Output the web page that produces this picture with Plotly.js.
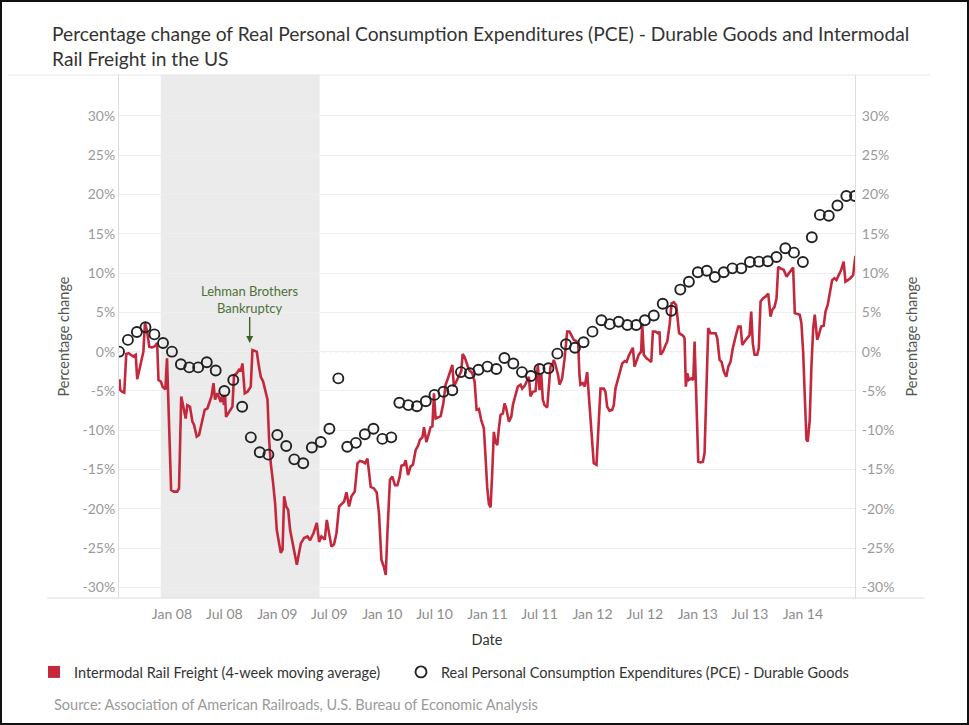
<!DOCTYPE html>
<html><head><meta charset="utf-8">
<script src="https://cdn.plot.ly/plotly-3.0.1.min.js"></script>
<style>
html,body{margin:0;padding:0;background:#fff;}
#chart{width:969px;height:725px;}
#frame{position:absolute;left:0;top:0;width:969px;height:725px;box-sizing:border-box;border:2px solid #111;pointer-events:none;}
</style>
</head><body>
<div id="chart"></div><div id="frame"></div>
<script>
const pceMonths = ['2007-07-01','2007-08-01','2007-09-01','2007-10-01','2007-11-01','2007-12-01',
'2008-01-01','2008-02-01','2008-03-01','2008-04-01','2008-05-01','2008-06-01','2008-07-01','2008-08-01','2008-09-01','2008-10-01','2008-11-01','2008-12-01',
'2009-01-01','2009-02-01','2009-03-01','2009-04-01','2009-05-01','2009-06-01','2009-07-01','2009-08-01','2009-09-01','2009-10-01','2009-11-01','2009-12-01',
'2010-01-01','2010-02-01','2010-03-01','2010-04-01','2010-05-01','2010-06-01','2010-07-01','2010-08-01','2010-09-01','2010-10-01','2010-11-01','2010-12-01',
'2011-01-01','2011-02-01','2011-03-01','2011-04-01','2011-05-01','2011-06-01','2011-07-01','2011-08-01','2011-09-01','2011-10-01','2011-11-01','2011-12-01',
'2012-01-01','2012-02-01','2012-03-01','2012-04-01','2012-05-01','2012-06-01','2012-07-01','2012-08-01','2012-09-01','2012-10-01','2012-11-01','2012-12-01',
'2013-01-01','2013-02-01','2013-03-01','2013-04-01','2013-05-01','2013-06-01','2013-07-01','2013-08-01','2013-09-01','2013-10-01','2013-11-01','2013-12-01',
'2014-01-01','2014-02-01','2014-03-01','2014-04-01','2014-05-01','2014-06-01','2014-07-01'];
const pceValues = [0,1.5,2.5,3.1,2.2,1.1,
0,-1.6,-2.0,-2.0,-1.35,-2.4,-5.0,-3.6,-7.0,-10.9,-12.8,-13.1,
-10.6,-12.0,-13.7,-14.2,-12.2,-11.5,-9.8,-3.4,-12.1,-11.6,-10.5,-9.8,
-11.1,-10.9,-6.5,-6.8,-6.95,-6.3,-5.5,-5.1,-4.9,-2.6,-2.75,-2.3,
-1.9,-2.2,-0.8,-1.5,-2.6,-3.1,-2.2,-2.1,-0.25,0.95,0.5,1.2,
2.55,4.0,3.5,3.8,3.4,3.4,4.0,4.6,6.1,5.2,7.9,8.9,
10.1,10.3,9.5,10.1,10.6,10.6,11.4,11.45,11.5,12.05,13.15,12.6,
11.4,14.55,17.4,17.3,18.6,19.8,19.8];

// Intermodal rail freight, 4-week moving average (dates as fractional years)
const railYears = [
2007.500,2007.508,2007.527,2007.546,2007.565,2007.588,2007.607,2007.631,2007.655,2007.669,
2007.690,2007.712,2007.728,2007.743,2007.762,2007.785,2007.810,2007.838,2007.859,2007.872,
2007.895,2007.912,2007.937,2007.953,2007.992,2008.019,2008.049,2008.067,2008.088,2008.108,
2008.130,2008.146,2008.171,2008.194,2008.209,2008.235,2008.257,2008.282,2008.311,2008.337,
2008.361,2008.375,2008.394,2008.409,2008.432,2008.447,2008.463,2008.479,2008.494,2008.504,
2008.513,2008.536,2008.558,2008.574,2008.589,2008.615,2008.637,2008.653,2008.669,2008.691,
2008.717,2008.748,2008.764,2008.805,2008.821,2008.843,2008.865,2008.881,2008.907,2008.922,
2008.938,2008.960,2008.979,2008.995,2009.012,2009.033,2009.050,2009.065,2009.084,2009.103,
2009.122,2009.145,2009.167,2009.186,2009.207,2009.224,2009.255,2009.287,2009.312,2009.344,
2009.376,2009.398,2009.420,2009.452,2009.471,2009.493,2009.515,2009.540,2009.563,2009.588,
2009.611,2009.635,2009.658,2009.683,2009.706,2009.737,2009.763,2009.787,2009.813,2009.835,
2009.858,2009.889,2009.920,2009.946,2009.968,2009.991,2010.015,2010.032,2010.048,2010.072,
2010.095,2010.120,2010.143,2010.165,2010.181,2010.206,2010.222,2010.244,2010.269,2010.291,
2010.317,2010.339,2010.358,2010.381,2010.396,2010.419,2010.443,2010.459,2010.476,2010.491,
2010.507,2010.533,2010.555,2010.580,2010.602,2010.624,2010.650,2010.666,2010.681,2010.707,
2010.728,2010.751,2010.764,2010.783,2010.808,2010.824,2010.856,2010.878,2010.897,2010.919,
2010.941,2010.966,2010.982,2010.998,2011.014,2011.030,2011.046,2011.061,2011.077,2011.094,
2011.109,2011.125,2011.147,2011.163,2011.179,2011.204,2011.227,2011.242,2011.268,2011.289,
2011.315,2011.331,2011.356,2011.372,2011.394,2011.410,2011.432,2011.458,2011.480,2011.496,
2011.512,2011.527,2011.543,2011.569,2011.584,2011.600,2011.616,2011.632,2011.648,2011.673,
2011.686,2011.711,2011.733,2011.759,2011.781,2011.800,2011.822,2011.845,2011.864,2011.876,
2011.885,2011.907,2011.926,2011.949,2011.964,2011.990,2012.012,2012.038,2012.054,2012.076,
2012.107,2012.123,2012.139,2012.161,2012.187,2012.202,2012.218,2012.244,2012.266,2012.282,
2012.307,2012.323,2012.345,2012.367,2012.383,2012.399,2012.418,2012.440,2012.462,2012.472,
2012.487,2012.513,2012.535,2012.558,2012.573,2012.598,2012.620,2012.636,2012.646,2012.668,
2012.694,2012.710,2012.732,2012.751,2012.772,2012.795,2012.822,2012.836,2012.862,2012.874,
2012.886,2012.900,2012.915,2012.938,2012.957,2012.969,2012.995,2013.004,2013.026,2013.048,
2013.064,2013.083,2013.099,2013.121,2013.147,2013.169,2013.185,2013.207,2013.226,2013.248,
2013.271,2013.290,2013.311,2013.333,2013.359,2013.385,2013.407,2013.423,2013.445,2013.470,
2013.492,2013.508,2013.523,2013.540,2013.565,2013.580,2013.597,2013.622,2013.644,2013.670,
2013.692,2013.708,2013.730,2013.749,2013.765,2013.787,2013.818,2013.844,2013.866,2013.888,
2013.907,2013.923,2013.945,2013.970,2013.986,2014.003,2014.018,2014.034,2014.046,2014.065,
2014.081,2014.098,2014.113,2014.136,2014.151,2014.174,2014.198,2014.215,2014.236,2014.255,
2014.278,2014.300,2014.319,2014.341,2014.364,2014.388,2014.405,2014.427,2014.452,2014.478,
2014.500];
const railValues = [
-3.5,-4.9,-5.1,-5.2,-0.3,-0.2,-0.4,-0.6,-0.4,-3.5,
-2.3,-1.1,0.0,3.7,2.7,0.6,0.55,0.7,1.1,-3.6,
-3.8,-4.5,-4.8,-0.85,-17.6,-17.8,-17.8,-17.4,-5.7,-7.0,
-8.5,-6.8,-7.0,-8.9,-9.3,-10.8,-10.6,-9.1,-7.4,-7.2,
-6.1,-5.7,-4.0,-6.1,-5.3,-5.9,-6.4,-5.5,-6.8,-5.5,
-8.3,-7.8,-7.4,-7.0,-3.0,-2.75,-2.3,-2.5,-1.5,-5.3,
-5.1,-4.45,0.2,0.0,-1.5,-3.2,-3.8,-4.7,-6.1,-11.2,
-14.2,-16.7,-19.3,-22.7,-24.0,-25.6,-25.2,-18.4,-19.7,-20.1,
-22.7,-24.4,-25.6,-27.1,-25.6,-24.4,-23.7,-23.5,-24.0,-23.1,
-21.8,-24.2,-23.5,-23.9,-21.4,-23.3,-24.8,-24.5,-23.1,-19.7,
-19.4,-19.1,-17.9,-19.7,-18.4,-17.8,-14.2,-13.9,-14.0,-14.2,
-13.6,-17.2,-17.4,-17.9,-20.6,-26.5,-27.4,-28.4,-23.1,-16.3,
-15.9,-17.0,-17.0,-15.9,-14.5,-14.4,-13.8,-15.7,-14.6,-14.4,
-12.5,-12.0,-11.2,-10.9,-9.6,-11.5,-10.4,-9.6,-9.5,-5.3,
-8.5,-8.3,-8.2,-6.6,-4.2,-3.4,-2.5,-1.7,-4.45,-3.6,
-3.1,-2.5,-0.3,-0.7,-1.7,-2.3,-2.75,-3.8,-7.4,-7.3,
-8.7,-9.75,-13.4,-17.3,-19.4,-19.8,-15.3,-10.2,-11.5,-11.9,
-9.75,-8.05,-7.85,-6.6,-7.2,-8.9,-8.3,-6.8,-5.5,-4.45,
-4.2,-4.7,-4.3,-3.8,-3.2,-5.7,-5.1,-5.0,-1.7,-4.9,
-2.75,-6.1,-6.8,-7.1,-4.45,-1.9,-1.7,-1.05,-1.7,-3.0,
-4.2,-3.4,-1.05,2.55,2.55,2.1,1.5,1.35,1.05,-3.0,
-4.2,-4.0,-4.45,-2.6,-5.5,-11.0,-14.2,-14.4,-9.75,-4.7,
-4.7,-5.1,-7.0,-7.5,-7.4,-6.8,-4.7,-3.4,-2.45,-1.5,
-1.2,-1.3,-0.5,0.0,0.5,-1.9,-1.05,-0.35,0.0,3.6,
-0.4,-0.85,-1.05,-1.3,2.55,2.55,2.35,2.55,-0.4,0.0,
0.85,1.3,3.4,6.15,6.3,5.9,2.35,2.25,2.0,1.7,
-4.45,-2.75,-3.6,-3.4,-3.6,1.3,-10.4,-14.0,-14.1,-14.0,
-12.9,-3.6,3.0,2.35,2.4,2.35,1.7,-1.05,-1.3,-2.55,
-3.2,-1.9,-1.3,0.45,1.9,3.2,3.2,0.85,1.3,1.7,
2.1,5.1,1.05,-0.4,-0.4,0.45,6.4,6.8,7.0,7.4,
4.45,5.3,5.7,6.8,10.8,10.6,10.4,9.55,9.95,10.4,
10.7,4.9,4.8,4.7,3.6,-0.2,-5.7,-11.2,-11.45,-8.7,
-1.9,3.0,4.7,1.5,2.1,3.2,3.3,5.1,5.95,7.4,
9.1,9.35,9.1,9.75,10.4,11.45,8.9,9.1,9.35,9.75,
12.2];

const xTickDates = ['2008-01-01','2008-07-01','2009-01-01','2009-07-01','2010-01-01','2010-07-01','2011-01-01','2011-07-01','2012-01-01','2012-07-01','2013-01-01','2013-07-01','2014-01-01'];
const xTickLabels = ['Jan 08','Jul 08','Jan 09','Jul 09','Jan 10','Jul 10','Jan 11','Jul 11','Jan 12','Jul 12','Jan 13','Jul 13','Jan 14'];
const yTickValues = [-30,-25,-20,-15,-10,-5,0,5,10,15,20,25,30];
const yTickLabels = yTickValues.map(v => v + '%');
const recession = ['2007-11-23','2009-05-28'];
const lehman = {date:'2008-09-27', value:1.1, text:'Lehman Brothers<br>Bankruptcy'};
const railName = 'Intermodal Rail Freight (4-week moving average)';
const pceName = 'Real Personal Consumption Expenditures (PCE) - Durable Goods';
const source = 'Source: Association of American Railroads, U.S. Bureau of Economic Analysis';

function yearToDate(y){
  const yr = Math.floor(y);
  const s = Date.UTC(yr,0,1), e = Date.UTC(yr+1,0,1);
  return new Date(s + (y-yr)*(e-s)).toISOString().slice(0,19).replace('T',' ');
}
const railDates = railYears.map(yearToDate);

const RED = '#c4283c', DARK = '#222';
const W = 969, H = 725, L = 119, R = 114, T = 75, B = 127;
const pw = W - L - R, ph = H - T - B;
const px = x => (x - L) / pw;
const py = y => (H - B - y) / ph;
const yRange = [-31.34, 35.2];
const FONT = 'Lato, sans-serif';

const traces = [
  {type:'scatter', mode:'lines', x:railDates, y:railValues, name:railName, showlegend:false,
   line:{color:RED, width:2.6}, yaxis:'y'},
  {type:'scatter', mode:'markers', x:pceMonths, y:pceValues, name:pceName, showlegend:false,
   marker:{symbol:'circle-open', size:10, color:DARK, line:{width:1.9, color:DARK}}, yaxis:'y2'},
  {type:'scatter', mode:'markers', x:[null], y:[null], name:railName, showlegend:true, legend:'legend',
   marker:{symbol:'square', size:12, color:RED}, hoverinfo:'skip'},
  {type:'scatter', mode:'markers', x:[null], y:[null], name:pceName, showlegend:true, legend:'legend2',
   marker:{symbol:'circle-open', size:11, color:DARK, line:{width:1.9, color:DARK}}, hoverinfo:'skip'}
];

const axisFont = {family:FONT, size:14, color:'#9a9a9a'};
const yCommon = {range:yRange, tickvals:yTickValues, ticktext:yTickLabels, ticks:'', zeroline:false,
  showline:true, linecolor:'#dcdcdc', linewidth:1, tickfont:axisFont, fixedrange:true};
const legendCommon = {orientation:'h', xanchor:'left', y:py(672), yanchor:'middle',
  font:{family:FONT, size:14.5, color:'#333'}, bgcolor:'rgba(0,0,0,0)', itemclick:false, itemdoubleclick:false};

const layout = {
  width:W, height:H,
  margin:{l:L, r:R, t:T, b:B},
  paper_bgcolor:'#ffffff', plot_bgcolor:'rgba(0,0,0,0)',
  font:{family:FONT, color:'#333'},
  title:{text:'Percentage change of Real Personal Consumption Expenditures (PCE) - Durable Goods and Intermodal<br>Rail Freight in the US',
    x:52/W, xanchor:'left', y:1-41/H, yanchor:'top', font:{family:FONT, size:19.2, color:'#333'}},
  xaxis:{type:'date', range:['2007-07-01','2014-07-01'], tickvals:xTickDates, ticktext:xTickLabels,
    showgrid:false, zeroline:false, showline:false, ticks:'', fixedrange:true, ticklabelstandoff:6,
    tickfont:{family:FONT, size:14, color:'#8c8c8c'},
    title:{text:'Date', font:{family:FONT, size:14.5, color:'#333'}, standoff:13}},
  yaxis:Object.assign({}, yCommon, {side:'left', showgrid:true, gridcolor:'#efefef', gridwidth:1,
    title:{text:'Percentage change', font:{family:FONT, size:14.5, color:'#555'}, standoff:9}}),
  yaxis2:Object.assign({}, yCommon, {side:'right', overlaying:'y', showgrid:false, ticklabelstandoff:3,
    title:{text:'Percentage change', font:{family:FONT, size:14.5, color:'#555'}, standoff:13}}),
  showlegend:true,
  legend:Object.assign({}, legendCommon, {x:px(34)}),
  legend2:Object.assign({}, legendCommon, {x:px(401)}),
  shapes:[
    {type:'rect', xref:'x', yref:'paper', x0:recession[0], x1:recession[1], y0:0, y1:1,
     fillcolor:'#ebebeb', line:{width:0}, layer:'below'},
    {type:'line', xref:'paper', yref:'y', x0:0, x1:1, y0:0, y1:0, line:{color:'#c8c8c8', width:1, dash:'dot'}, layer:'below'},
    {type:'line', xref:'paper', yref:'paper', x0:px(47), x1:px(925), y0:0, y1:0, line:{color:'#dcdcdc', width:1}},
    {type:'line', xref:'paper', yref:'paper', x0:px(8), x1:px(930), y0:1, y1:1, line:{color:'#e6e6e6', width:1}}
  ],
  annotations:[
    {x:lehman.date, y:lehman.value, xref:'x', yref:'y', text:lehman.text, showarrow:true,
     ax:0, ay:-26, xanchor:'center', yanchor:'bottom', borderpad:0, standoff:0,
     arrowhead:2, arrowsize:1, arrowwidth:1.4, arrowcolor:'#3d5f2a',
     font:{family:FONT, size:13, color:'#4d7236'}},
    {xref:'paper', yref:'paper', x:px(52), y:py(704), xanchor:'left', yanchor:'middle', showarrow:false,
     text:source, font:{family:FONT, size:14.5, color:'#9a9a9a'}}
  ]
};

Plotly.newPlot('chart', traces, layout, {staticPlot:true, displayModeBar:false});
</script>
</body></html>
